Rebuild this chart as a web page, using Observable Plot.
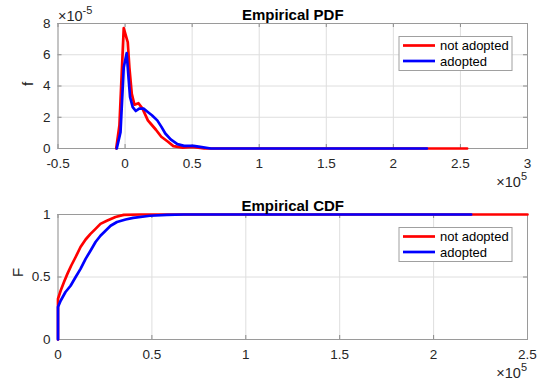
<!DOCTYPE html>
<html>
<head>
<meta charset="utf-8">
<script src="https://cdn.jsdelivr.net/npm/d3@7"></script>
<script src="https://cdn.jsdelivr.net/npm/@observablehq/plot@0.6"></script>
<style>
  html, body { margin: 0; padding: 0; background: #fff; }
  svg { display: block; }
</style>
</head>
<body>
<div id="chart"></div>
<script>
// ---------- DATA (x in units of 1e5; PDF f in units of 1e-5) ----------
const seriesNames = ["not adopted", "adopted"];
const seriesColors = ["#ff0000", "#0000ff"];

const pdfNotAdoptedX = [-0.066, -0.042, -0.01, 0.02, 0.032, 0.05, 0.07, 0.1, 0.13, 0.17, 0.19, 0.23, 0.27, 0.32, 0.36, 0.43, 0.5, 0.59, 1.0, 1.5, 2.0, 2.55];
const pdfNotAdoptedF = [0, 1.5, 7.7, 6.8, 5.2, 3.5, 2.8, 2.9, 2.55, 1.8, 1.6, 1.2, 0.75, 0.43, 0.15, 0.06, 0.1, 0, 0, 0, 0, 0];

const pdfAdoptedX = [-0.062, -0.034, -0.01, 0.012, 0.027, 0.037, 0.057, 0.08, 0.105, 0.138, 0.167, 0.2, 0.24, 0.27, 0.3, 0.34, 0.39, 0.44, 0.51, 0.56, 0.64, 1.0, 1.5, 2.0, 2.25];
const pdfAdoptedF = [0, 1.05, 5.2, 6.1, 4.4, 3.3, 2.65, 2.4, 2.55, 2.55, 2.35, 2.13, 1.8, 1.4, 0.96, 0.58, 0.28, 0.17, 0.17, 0.1, 0, 0, 0, 0, 0];

const cdfNotAdoptedX = [0, 0, 0.014, 0.032, 0.05, 0.07, 0.094, 0.12, 0.147, 0.173, 0.2, 0.226, 0.26, 0.306, 0.35, 0.44, 2.5];
const cdfNotAdoptedF = [0, 0.325, 0.39, 0.46, 0.525, 0.59, 0.66, 0.74, 0.8, 0.845, 0.885, 0.925, 0.95, 0.98, 0.997, 1, 1];

const cdfAdoptedX = [0, 0, 0.014, 0.04, 0.067, 0.094, 0.12, 0.147, 0.173, 0.2, 0.226, 0.253, 0.28, 0.314, 0.36, 0.4, 0.49, 0.58, 0.67, 2.2];
const cdfAdoptedF = [0, 0.26, 0.31, 0.38, 0.43, 0.5, 0.565, 0.645, 0.71, 0.78, 0.83, 0.87, 0.91, 0.94, 0.96, 0.973, 0.99, 0.997, 1, 1];

const pdfXTicks = [-0.5, 0, 0.5, 1, 1.5, 2, 2.5, 3];
const pdfYTicks = [0, 2, 4, 6, 8];
const cdfXTicks = [0, 0.5, 1, 1.5, 2, 2.5];
const cdfYTicks = [0, 0.5, 1];

const pdfTitle = "Empirical PDF";
const cdfTitle = "Empirical CDF";
const pdfYLabel = "f";
const cdfYLabel = "F";
const pdfYExp = "-5";
const xExp = "5";

// ---------- helpers ----------
const toRows = (xs, ys) => xs.map((x, i) => ({x, y: ys[i]}));
const FONT = "'Liberation Sans', Arial, Helvetica, sans-serif";
const W = 541, H = 191;
const M = {left: 57.5, right: 14, top: 23, bottom: 43};

function panel({title, ylabel, xTicks, yTicks, xDomain, yDomain, series, yExp}) {
  const svg = Plot.plot({
    width: W, height: H,
    marginLeft: M.left, marginRight: M.right, marginTop: M.top, marginBottom: M.bottom,
    style: {fontFamily: FONT, fontSize: "13px", color: "#262626", background: "#fff"},
    x: {domain: xDomain, ticks: xTicks},
    y: {domain: yDomain, ticks: yTicks},
    marks: [
      Plot.gridX(xTicks, {stroke: "#dedede", strokeOpacity: 1}),
      Plot.gridY(yTicks, {stroke: "#dedede", strokeOpacity: 1}),
      Plot.tickX(xTicks, {x: d => d, stroke: "#8a8a8a", insetTop: H - M.top - M.bottom - 4}),
      Plot.tickX(xTicks, {x: d => d, stroke: "#8a8a8a", insetBottom: H - M.top - M.bottom - 4}),
      Plot.tickY(yTicks, {y: d => d, stroke: "#8a8a8a", insetRight: W - M.left - M.right - 4}),
      Plot.tickY(yTicks, {y: d => d, stroke: "#8a8a8a", insetLeft: W - M.left - M.right - 4}),
      Plot.frame({stroke: "#9a9a9a"}),
      ...series.map((s, i) => Plot.line(s, {x: "x", y: "y", stroke: seriesColors[i], strokeWidth: 2.7, strokeLinejoin: "round"})),
      Plot.axisX({ticks: xTicks, tickSize: 0, tickPadding: 9.5, tickFormat: d => String(d), label: null, fontSize: 13.5}),
      Plot.axisY({ticks: yTicks, tickSize: 0, tickPadding: 7.5, tickFormat: d => String(d), label: null, fontSize: 13.5}),
      Plot.text([title], {frameAnchor: "top", dy: -3.5, lineAnchor: "bottom", text: d => d, fontWeight: "bold", fontSize: 15, fill: "#000"}),
      Plot.text([ylabel], {frameAnchor: "left", dx: ylabel === "f" ? -29.5 : -40, rotate: -90, text: d => d, fontSize: 15, fill: "#262626"})
    ]
  });
  const g = d3.select(svg);
  // exponent labels
  if (yExp) {
    const t = g.append("text").attr("x", M.left + 0.5).attr("y", M.top - 2.5)
      .attr("text-anchor", "start")
      .attr("font-family", FONT).attr("font-size", 14.5).attr("fill", "#262626");
    t.append("tspan").text("\u00d710");
    t.append("tspan").attr("dy", -6.5).attr("font-size", 11).text(yExp);
  }
  {
    const t = g.append("text").attr("x", W - M.right).attr("y", H - M.bottom + 38.5)
      .attr("text-anchor", "end")
      .attr("font-family", FONT).attr("font-size", 14.5).attr("fill", "#262626");
    t.append("tspan").text("\u00d710");
    t.append("tspan").attr("dy", -6.5).attr("font-size", 11).text(xExp);
  }
  // legend
  const lx = 399, ly = M.top + 13.5, lw = 113, lh = 34;
  const lg = g.append("g").attr("text-anchor", "start");
  lg.append("rect").attr("x", lx).attr("y", ly).attr("width", lw).attr("height", lh)
    .attr("fill", "#fff").attr("stroke", "#a0a0a0").attr("stroke-width", 1);
  seriesNames.forEach((name, i) => {
    const yy = ly + 9 + i * 15.5;
    lg.append("line").attr("x1", lx + 4).attr("x2", lx + 36).attr("y1", yy).attr("y2", yy)
      .attr("stroke", seriesColors[i]).attr("stroke-width", 2.7);
    lg.append("text").attr("x", lx + 41).attr("y", yy).attr("dy", "0.35em")
      .attr("text-anchor", "start")
      .attr("font-family", FONT).attr("font-size", 13).attr("fill", "#000").text(name);
  });
  return svg;
}

const root = document.getElementById("chart");
root.appendChild(panel({
  title: pdfTitle, ylabel: pdfYLabel, xTicks: pdfXTicks, yTicks: pdfYTicks,
  xDomain: [-0.5, 3], yDomain: [0, 8], yExp: pdfYExp,
  series: [toRows(pdfNotAdoptedX, pdfNotAdoptedF), toRows(pdfAdoptedX, pdfAdoptedF)]
}));
root.appendChild(panel({
  title: cdfTitle, ylabel: cdfYLabel, xTicks: cdfXTicks, yTicks: cdfYTicks,
  xDomain: [0, 2.5], yDomain: [0, 1], yExp: null,
  series: [toRows(cdfNotAdoptedX, cdfNotAdoptedF), toRows(cdfAdoptedX, cdfAdoptedF)]
}));
</script>
</body>
</html>
